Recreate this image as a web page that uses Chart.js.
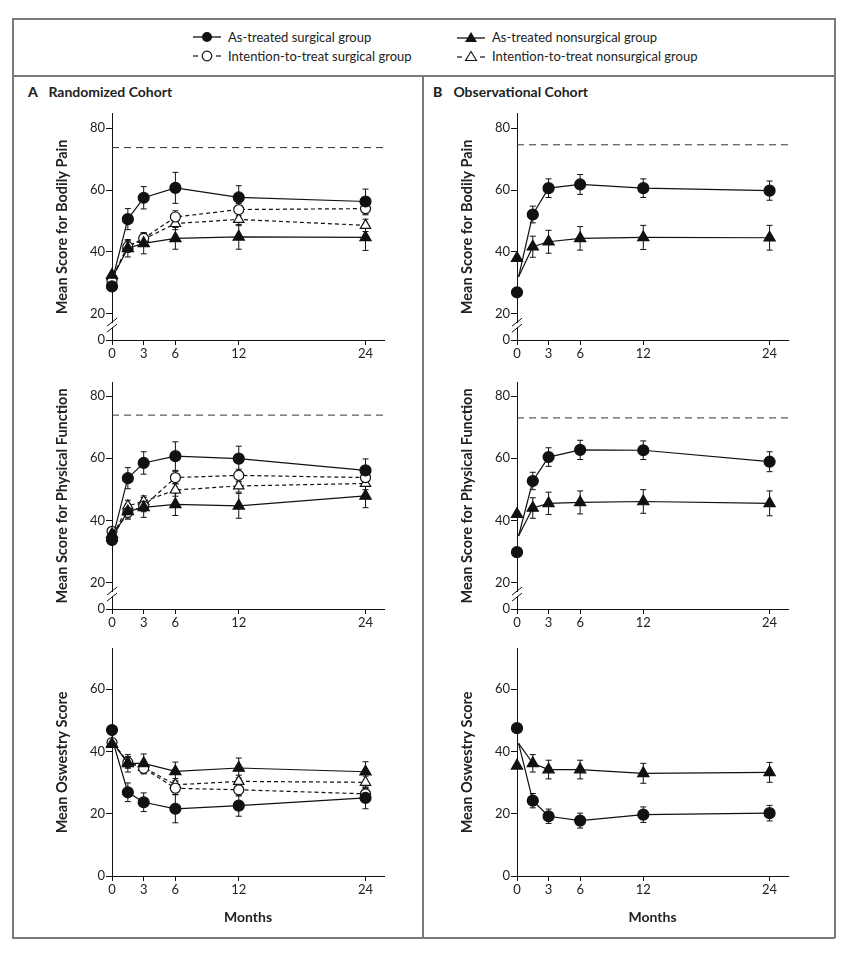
<!DOCTYPE html>
<html>
<head>
<meta charset="utf-8">
<script src="https://cdn.jsdelivr.net/npm/chart.js@4.4.1/dist/chart.umd.min.js"></script>
<style>
  body { margin: 0; background: #fff; font-family: Lato, "Liberation Sans", sans-serif; color: #222; }
  #wrap { position: relative; width: 847px; height: 956px; }
  .rule { position: absolute; background: #7a7a7a; }
  canvas { position: absolute; }
  .lg { position: absolute; font-size: 13px; line-height: 16px; white-space: nowrap; padding-left: 35px; }
  .lg svg { position: absolute; left: 0; top: 1px; }
  .ptitle { position: absolute; font-weight: bold; font-size: 14px; white-space: nowrap; }
  .ptitle b { display: inline-block; width: 17px; }
</style>
</head>
<body>
<div id="wrap">
  <div class="rule" style="left:12px;top:18px;width:823px;height:1.5px"></div>
  <div class="rule" style="left:12px;top:937px;width:823px;height:1.5px"></div>
  <div class="rule" style="left:12px;top:18px;width:1.5px;height:920px"></div>
  <div class="rule" style="left:834px;top:18px;width:1.5px;height:920px"></div>
  <div class="rule" style="left:12px;top:75px;width:823px;height:1.5px"></div>
  <div class="rule" style="left:422px;top:75px;width:1.5px;height:863px"></div>

  <div class="lg" style="left:193px;top:29px">
    <svg width="28" height="14"><line x1="0" y1="7" x2="28" y2="7" stroke="#111" stroke-width="1.3"/><circle cx="14" cy="7" r="5" fill="#111"/></svg>As-treated surgical group</div>
  <div class="lg" style="left:193px;top:48px">
    <svg width="28" height="14"><line x1="0" y1="7" x2="5" y2="7" stroke="#111" stroke-width="1.2"/><line x1="23" y1="7" x2="28" y2="7" stroke="#111" stroke-width="1.2"/><circle cx="14" cy="7" r="4.8" fill="#fff" stroke="#111" stroke-width="1.2"/></svg>Intention-to-treat surgical group</div>
  <div class="lg" style="left:457px;top:29px">
    <svg width="28" height="14"><line x1="0" y1="8" x2="28" y2="8" stroke="#111" stroke-width="1.3"/><polygon points="14,2 20,12 8,12" fill="#111"/></svg>As-treated nonsurgical group</div>
  <div class="lg" style="left:457px;top:48px">
    <svg width="28" height="14"><line x1="0" y1="8" x2="5" y2="8" stroke="#111" stroke-width="1.2"/><line x1="23" y1="8" x2="28" y2="8" stroke="#111" stroke-width="1.2"/><polygon points="14,2.5 19.5,11.5 8.5,11.5" fill="#fff" stroke="#111" stroke-width="1.1"/></svg>Intention-to-treat nonsurgical group</div>

  <div class="ptitle" style="left:28px;top:83px"><b>A</b> Randomized Cohort</div>
  <div class="ptitle" style="left:433px;top:83px"><b>B</b> Observational Cohort</div>

  <canvas id="aPain" width="350" height="263" style="left:50px;top:105px"></canvas>
  <canvas id="aFunc" width="350" height="263" style="left:50px;top:374px"></canvas>
  <canvas id="aOdi" width="350" height="290" style="left:50px;top:640px"></canvas>
  <canvas id="bPain" width="349" height="263" style="left:455px;top:105px"></canvas>
  <canvas id="bFunc" width="349" height="263" style="left:455px;top:374px"></canvas>
  <canvas id="bOdi" width="349" height="290" style="left:455px;top:640px"></canvas>
</div>

<script>
// follow-up times (months); index 0 is the baseline marker
const months = [0, 1.5, 3, 6, 12, 24];
const monthTicks = [0, 3, 6, 12, 24];
const sf36Ticks = [0, 20, 40, 60, 80];
const odiTicks = [0, 20, 40, 60];

// A - randomized cohort, bodily pain
const aPainStart = 32.5;
const aPainNorm = 73.7;
const aPainAtSurg = [28.9, 50.6, 57.5, 60.7, 57.6, 56.3];
const aPainAtSurgErr = [0, 3.4, 3.6, 5.0, 3.8, 4.0];
const aPainAtNon = [32.6, 41.2, 42.8, 44.4, 44.9, 44.7];
const aPainAtNonErr = [0, 2.8, 3.4, 3.5, 4.0, 4.2];
const aPainIttSurg = [30.5, 41.7, 44.4, 51.3, 53.7, 54.0];
const aPainIttNon = [32.2, 42.0, 44.1, 49.2, 50.5, 48.6];

// A - physical function
const aFuncStart = 35.5;
const aFuncNorm = 73.9;
const aFuncAtSurg = [33.7, 53.6, 58.5, 60.7, 59.9, 56.1];
const aFuncAtSurgErr = [0, 3.4, 3.6, 4.6, 4.0, 3.7];
const aFuncAtNon = [35.6, 42.9, 44.2, 45.2, 44.7, 47.9];
const aFuncAtNonErr = [0, 2.5, 3.2, 3.6, 4.0, 3.8];
const aFuncIttSurg = [36.5, 42.6, 44.6, 53.8, 54.5, 53.8];
const aFuncIttNon = [34.8, 44.7, 46.1, 49.8, 51.1, 51.9];

// A - Oswestry
const aOdiStart = 42.5;
const aOdiAtSurg = [46.9, 26.9, 23.7, 21.6, 22.6, 25.1];
const aOdiAtSurgErr = [0, 3.0, 3.0, 4.5, 3.4, 3.5];
const aOdiAtNon = [42.4, 36.2, 36.2, 33.6, 34.7, 33.5];
const aOdiAtNonErr = [0, 2.8, 3.0, 3.0, 3.2, 3.2];
const aOdiIttSurg = [42.9, 36.5, 34.6, 28.2, 27.7, 26.4];
const aOdiIttNon = [42.6, 36.5, 34.9, 29.3, 30.4, 30.1];

// B - observational cohort
const bPainStart = 32;
const bPainNorm = 74.6;
const bPainAtSurg = [27.0, 52.1, 60.6, 61.8, 60.6, 59.8];
const bPainAtSurgErr = [0, 2.7, 3.0, 3.2, 3.0, 3.1];
const bPainAtNon = [38.0, 41.7, 43.3, 44.4, 44.7, 44.6];
const bPainAtNonErr = [0, 3.4, 3.7, 3.8, 3.9, 4.0];

const bFuncStart = 35;
const bFuncNorm = 73.0;
const bFuncAtSurg = [29.8, 52.7, 60.4, 62.7, 62.6, 58.9];
const bFuncAtSurgErr = [0, 2.8, 3.0, 3.1, 3.0, 3.2];
const bFuncAtNon = [42.0, 44.0, 45.5, 45.8, 46.1, 45.5];
const bFuncAtNonErr = [0, 3.3, 3.6, 3.7, 3.8, 4.0];

const bOdiStart = 42.6;
const bOdiAtSurg = [47.5, 24.2, 19.2, 17.8, 19.7, 20.2];
const bOdiAtSurgErr = [0, 2.3, 2.3, 2.4, 2.5, 2.5];
const bOdiAtNon = [35.4, 36.2, 34.2, 34.2, 33.0, 33.3];
const bOdiAtNonErr = [0, 2.8, 3.0, 3.0, 3.2, 3.2];

const ittErr = [0, 1.8, 1.8, 2.0, 2.0, 2.0];

const FONT = 'Lato, "Liberation Sans", sans-serif';
const INK = '#111';
const X_MAX = 25.75;

const styles = {
  atSurg:  { pointStyle: 'circle',   radius: 5.5, fill: INK,    dash: [],     order: 1 },
  atNon:   { pointStyle: 'triangle', radius: 6.5, fill: INK,    dash: [],     order: 2 },
  ittSurg: { pointStyle: 'circle',   radius: 5,   fill: '#fff', dash: [4, 3], order: 3 },
  ittNon:  { pointStyle: 'triangle', radius: 6,   fill: '#fff', dash: [4, 3], order: 4 }
};

// vertical error bars with caps
const errorBars = {
  id: 'errorBars',
  beforeDatasetsDraw(chart) {
    const ctx = chart.ctx, y = chart.scales.y;
    ctx.save();
    ctx.strokeStyle = INK;
    ctx.lineWidth = 1;
    chart.data.datasets.forEach((ds, i) => {
      if (!ds.errors) return;
      chart.getDatasetMeta(i).data.forEach((pt, j) => {
        const e = ds.errors[j];
        if (!e) return;
        const v = ds.data[j].y;
        const top = y.getPixelForValue(v + e), bot = y.getPixelForValue(v - e);
        ctx.beginPath();
        ctx.moveTo(pt.x, top); ctx.lineTo(pt.x, bot);
        ctx.moveTo(pt.x - 3, top); ctx.lineTo(pt.x + 3, top);
        ctx.moveTo(pt.x - 3, bot); ctx.lineTo(pt.x + 3, bot);
        ctx.stroke();
      });
    });
    ctx.restore();
  }
};

// "//" mark on a broken y axis
const axisBreak = {
  id: 'axisBreak',
  afterDraw(chart, args, opts) {
    if (!opts.at) return;
    const ctx = chart.ctx, x = chart.chartArea.left;
    const yp = chart.scales.y.getPixelForValue(opts.at);
    ctx.save();
    ctx.fillStyle = '#fff';
    ctx.fillRect(x - 2, yp - 2, 4, 4);
    ctx.strokeStyle = INK;
    ctx.lineWidth = 1;
    ctx.beginPath();
    ctx.moveTo(x - 5, yp + 1); ctx.lineTo(x + 5, yp - 7);
    ctx.moveTo(x - 5, yp + 7); ctx.lineTo(x + 5, yp - 1);
    ctx.stroke();
    ctx.restore();
  }
};

function panel(id, cfg) {
  const datasets = [];
  cfg.series.forEach(s => {
    const st = styles[s.kind];
    const common = {
      pointStyle: st.pointStyle,
      backgroundColor: st.fill,
      borderColor: INK,
      pointBorderColor: INK,
      pointBackgroundColor: st.fill,
      pointBorderWidth: 1.2,
      clip: false,
      order: st.order
    };
    const line = [{ x: 0.15, y: cfg.start }].concat(
      months.slice(1).map((m, i) => ({ x: m, y: s.vals[i + 1] })));
    datasets.push(Object.assign({}, common, {
      data: line,
      errors: [0].concat(s.err.slice(1)),
      showLine: true,
      borderWidth: 1.2,
      borderDash: st.dash,
      pointRadius: c => c.dataIndex === 0 ? 0 : st.radius
    }));
    datasets.push(Object.assign({}, common, {
      data: [{ x: months[0], y: s.vals[0] }],
      showLine: false,
      pointRadius: st.radius
    }));
  });
  if (cfg.norm) {
    datasets.push({
      data: [{ x: 0, y: cfg.norm }, { x: X_MAX, y: cfg.norm }],
      showLine: true, borderColor: '#333', borderWidth: 1, borderDash: [7, 5],
      pointRadius: 0, order: 9
    });
  }
  new Chart(document.getElementById(id), {
    type: 'scatter',
    data: { datasets },
    options: {
      responsive: false,
      animation: false,
      events: [],
      layout: { padding: { top: 8, right: 16, left: 0, bottom: 0 } },
      plugins: {
        legend: { display: false },
        tooltip: { enabled: false },
        axisBreak: { at: cfg.breakAt }
      },
      scales: {
        x: {
          type: 'linear', min: 0, max: X_MAX,
          afterBuildTicks: sc => { sc.ticks = monthTicks.map(v => ({ value: v })); },
          afterFit: sc => { sc.height = cfg.xh; },
          grid: { drawOnChartArea: false, tickLength: 5, color: INK },
          border: { color: INK, width: 1 },
          ticks: { color: '#222', font: { family: FONT, size: 13 }, padding: 1, maxRotation: 0 },
          title: { display: !!cfg.xTitle, text: cfg.xTitle || '', color: '#222',
                   font: { family: FONT, size: 14, weight: 'bold' } }
        },
        y: {
          min: cfg.yMin, max: cfg.yMax,
          afterBuildTicks: sc => { sc.ticks = cfg.yTicks.map(v => ({ value: v === 0 ? cfg.yMin : v })); },
          afterFit: sc => { sc.width = 62; },
          grid: { drawOnChartArea: false, tickLength: 6, color: INK },
          border: { color: INK, width: 1 },
          ticks: { color: '#222', font: { family: FONT, size: 13 }, padding: 1,
                   callback: v => (v === cfg.yMin ? '0' : v) },
          title: { display: true, text: cfg.yTitle, color: '#222',
                   font: { family: FONT, size: 14.5, weight: 'bold' } }
        }
      }
    },
    plugins: [errorBars, axisBreak]
  });
}

panel('aPain', {
  yMin: 11.6, yMax: 84.6, yTicks: sf36Ticks, breakAt: 16.4, xh: 28,
  yTitle: 'Mean Score for Bodily Pain', start: aPainStart, norm: aPainNorm,
  series: [
    { kind: 'ittSurg', vals: aPainIttSurg, err: ittErr },
    { kind: 'ittNon', vals: aPainIttNon, err: ittErr },
    { kind: 'atNon', vals: aPainAtNon, err: aPainAtNonErr },
    { kind: 'atSurg', vals: aPainAtSurg, err: aPainAtSurgErr }
  ]
});
panel('aFunc', {
  yMin: 11.5, yMax: 84.3, yTicks: sf36Ticks, breakAt: 16.3, xh: 28,
  yTitle: 'Mean Score for Physical Function', start: aFuncStart, norm: aFuncNorm,
  series: [
    { kind: 'ittSurg', vals: aFuncIttSurg, err: ittErr },
    { kind: 'ittNon', vals: aFuncIttNon, err: ittErr },
    { kind: 'atNon', vals: aFuncAtNon, err: aFuncAtNonErr },
    { kind: 'atSurg', vals: aFuncAtSurg, err: aFuncAtSurgErr }
  ]
});
panel('aOdi', {
  yMin: 0, yMax: 73, yTicks: odiTicks, xh: 54, xTitle: 'Months',
  yTitle: 'Mean Oswestry Score', start: aOdiStart,
  series: [
    { kind: 'ittSurg', vals: aOdiIttSurg, err: ittErr },
    { kind: 'ittNon', vals: aOdiIttNon, err: ittErr },
    { kind: 'atNon', vals: aOdiAtNon, err: aOdiAtNonErr },
    { kind: 'atSurg', vals: aOdiAtSurg, err: aOdiAtSurgErr }
  ]
});
panel('bPain', {
  yMin: 11.6, yMax: 84.6, yTicks: sf36Ticks, breakAt: 16.4, xh: 28,
  yTitle: 'Mean Score for Bodily Pain', start: bPainStart, norm: bPainNorm,
  series: [
    { kind: 'atNon', vals: bPainAtNon, err: bPainAtNonErr },
    { kind: 'atSurg', vals: bPainAtSurg, err: bPainAtSurgErr }
  ]
});
panel('bFunc', {
  yMin: 11.5, yMax: 84.3, yTicks: sf36Ticks, breakAt: 16.3, xh: 28,
  yTitle: 'Mean Score for Physical Function', start: bFuncStart, norm: bFuncNorm,
  series: [
    { kind: 'atNon', vals: bFuncAtNon, err: bFuncAtNonErr },
    { kind: 'atSurg', vals: bFuncAtSurg, err: bFuncAtSurgErr }
  ]
});
panel('bOdi', {
  yMin: 0, yMax: 73, yTicks: odiTicks, xh: 54, xTitle: 'Months',
  yTitle: 'Mean Oswestry Score', start: bOdiStart,
  series: [
    { kind: 'atNon', vals: bOdiAtNon, err: bOdiAtNonErr },
    { kind: 'atSurg', vals: bOdiAtSurg, err: bOdiAtSurgErr }
  ]
});
</script>
</body>
</html>
